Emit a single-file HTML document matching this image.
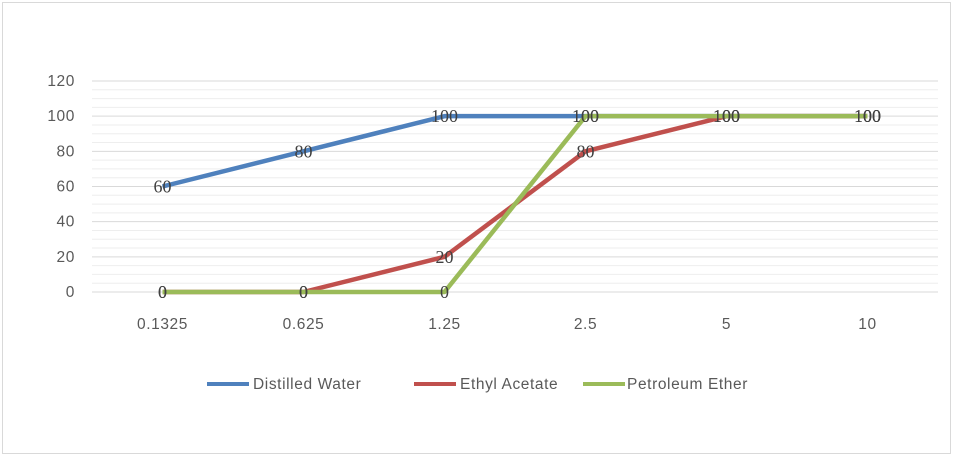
<!DOCTYPE html>
<html><head><meta charset="utf-8"><style>
body{margin:0;background:#fff}
svg{display:block}
</style></head><body>
<svg id="c" width="953" height="456" xmlns="http://www.w3.org/2000/svg">
<rect x="2.5" y="2.5" width="948" height="451" fill="#fff" stroke="#d9d9d9"/>
<g id="grid"></g><g id="axes"></g><g id="series"></g><g id="labels"></g>
<g font-family="Liberation Sans, sans-serif" font-size="15.5" fill="#595959" letter-spacing="0.6">
<g><line x1="207" y1="384" x2="249" y2="384" stroke="#4f81bd" stroke-width="4"/><text x="253" y="389">Distilled Water</text></g>
<g><line x1="414" y1="384" x2="456" y2="384" stroke="#c0504d" stroke-width="4"/><text x="460" y="389">Ethyl Acetate</text></g>
<g><line x1="583" y1="384" x2="625" y2="384" stroke="#9bbb59" stroke-width="4"/><text x="627" y="389">Petroleum Ether</text></g>
</g>
</svg>
<script>
const categories=["0.1325","0.625","1.25","2.5","5","10"];
const distilledWater=[60,80,100,100,100,100];
const ethylAcetate=[0,0,20,80,100,100];
const petroleumEther=[0,0,0,100,100,100];
const yTicks=[0,20,40,60,80,100,120];
const NS="http://www.w3.org/2000/svg";
const x0=92,x1=938,yTop=81,yBot=292,yMax=120;
const step=(x1-x0)/categories.length;
const xs=i=>x0+step*(i+0.5);
const ys=v=>yBot-(v/yMax)*(yBot-yTop);
function mk(t,a,p){const e=document.createElementNS(NS,t);for(const k in a)e.setAttribute(k,a[k]);p.appendChild(e);return e;}
const grid=document.getElementById('grid');
for(let v=0;v<=yMax;v+=5){const l=mk('line',{x1:x0,x2:x1,y1:ys(v),y2:ys(v),stroke:v%20===0?'#d9d9d9':'#eeeeee','stroke-width':1},grid);

}
const axes=document.getElementById('axes');
yTicks.forEach(v=>{const t=mk('text',{x:75,y:ys(v)+5,'text-anchor':'end','font-family':'Liberation Sans, sans-serif','font-size':15.5,'letter-spacing':0.6,fill:'#595959'},axes);t.textContent=v;

});
categories.forEach((c,i)=>{const t=mk('text',{x:xs(i),y:329,'text-anchor':'middle','font-family':'Liberation Sans, sans-serif','font-size':15.5,'letter-spacing':0.6,fill:'#595959'},axes);t.textContent=c;

});
const ser=document.getElementById('series'),lab=document.getElementById('labels');
[[distilledWater,'#4f81bd','distilled-water'],[ethylAcetate,'#c0504d','ethyl-acetate'],[petroleumEther,'#9bbb59','petroleum-ether']].forEach(([d,col,n])=>{
const p=mk('polyline',{points:d.map((v,i)=>xs(i)+','+ys(v)).join(' '),fill:'none',stroke:col,'stroke-width':4.5,'stroke-linejoin':'round'},ser);


d.forEach((v,i)=>{const t=mk('text',{x:xs(i),y:ys(v)+6,'text-anchor':'middle','font-family':'Liberation Serif, serif','font-size':18,fill:'#404040'},lab);t.textContent=v;

});
});
</script>
</body></html>
